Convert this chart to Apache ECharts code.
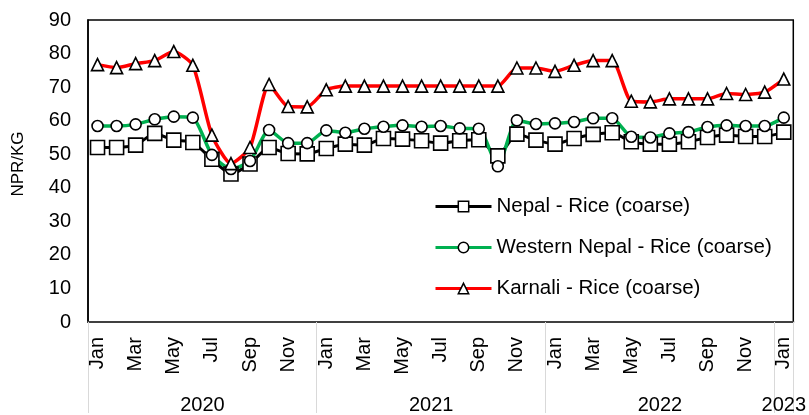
<!DOCTYPE html>
<html>
<head>
<meta charset="utf-8">
<script src="https://cdn.jsdelivr.net/npm/echarts@6/dist/echarts.min.js"></script>
<style>html,body{margin:0;padding:0;background:#fff}#c{width:809px;height:415px}</style>
</head>
<body>
<div id="c"></div>
<script>
const months = ['Jan','Feb','Mar','Apr','May','Jun','Jul','Aug','Sep','Oct','Nov','Dec',
  'Jan','Feb','Mar','Apr','May','Jun','Jul','Aug','Sep','Oct','Nov','Dec',
  'Jan','Feb','Mar','Apr','May','Jun','Jul','Aug','Sep','Oct','Nov','Dec','Jan'];
const years = ['2020','2020','2020','2020','2020','2020','2020','2020','2020','2020','2020','2020',
  '2021','2021','2021','2021','2021','2021','2021','2021','2021','2021','2021','2021',
  '2022','2022','2022','2022','2022','2022','2022','2022','2022','2022','2022','2022','2023'];
const nepal = [52,52,52.7,56.2,54.2,53.5,48.5,44.1,47.1,52,50.2,50.1,
  51.7,53,52.7,54.7,54.5,54,53.3,54,54.3,49.5,56,54.2,
  53,54.7,55.9,56.4,53.7,53,53,53.7,55,55.7,55.3,55.3,56.6];
const western = [58.4,58.4,58.9,60.4,61.2,60.9,49.8,45.6,48,57.2,53.3,53.3,
  57.1,56.4,57.6,58.2,58.6,58.2,58.4,57.7,57.6,46.4,60.1,59,
  59.2,59.6,60.7,60.7,55.2,55,56.2,56.6,58.1,58.6,58.4,58.4,60.9];
const karnali = [76.7,75.8,77,77.9,80.6,76.5,55.7,47.2,52,70.8,64.2,64.1,
  69.2,70.3,70.3,70.3,70.3,70.3,70.3,70.3,70.3,70.3,75.7,75.7,
  74.7,76.5,77.9,77.9,65.8,65.6,66.5,66.5,66.5,68.1,67.8,68.5,72.4];
const yTicks = {min:0, max:90, interval:10};

const font = 'Liberation Sans, Arial, sans-serif';
const chart = echarts.init(document.getElementById('c'));
function mk(name, data, color, symbol, size, lw) {
  return {
    name, type:'line', data, smooth:0.2,
    symbol, symbolSize:size, showAllSymbol:true,
    lineStyle:{color, width:lw},
    itemStyle:{color:'#fff', borderColor:'#000', borderWidth:1.6},
    emphasis:{disabled:true},
    color
  };
}
const legItem = {color:'#fff', borderColor:'#000', borderWidth:1.5};
chart.setOption({
  animation:false,
  grid:{left:88, right:15, top:20, bottom:91, show:true, borderColor:'#000', borderWidth:1.5, backgroundColor:'transparent'},
  legend:{
    orient:'vertical', left:429, top:191, itemWidth:56, itemHeight:13, itemGap:20,
    textStyle:{fontFamily:font, fontSize:20.5, color:'#000'},
    data:[
      {name:'Nepal - Rice (coarse)', itemStyle:legItem, lineStyle:{color:'#000', width:3}},
      {name:'Western Nepal - Rice (coarse)', itemStyle:legItem, lineStyle:{color:'#00b050', width:3}},
      {name:'Karnali - Rice (coarse)', itemStyle:legItem, lineStyle:{color:'#ff0000', width:3}}
    ]
  },
  xAxis:[{
    type:'category', data:months, boundaryGap:true, position:'bottom',
    axisLine:{lineStyle:{color:'#404040', width:2}},
    axisTick:{show:true, length:91, interval:(i)=>i%12===0, lineStyle:{color:'#d9d9d9', width:1}},
    axisLabel:{interval:1, rotate:90, fontFamily:font, fontSize:20, color:'#000', margin:15},
  },{
    type:'category', data:years, boundaryGap:true, position:'bottom',
    axisLine:{show:false}, axisTick:{show:false},
    axisLabel:{interval:0, fontFamily:font, fontSize:20, color:'#000', margin:73,
      formatter:(v,i)=> (i===6||i===18||i===30) ? '{s|'+v+'}' : (i===36 ? '{n|'+v+'}' : ''),
      rich:{s:{fontFamily:font, fontSize:20, color:'#000', padding:[0,19,0,0]}, n:{fontFamily:font, fontSize:20, color:'#000'}}
    }
  }],
  yAxis:{
    type:'value', min:yTicks.min, max:yTicks.max, interval:yTicks.interval,
    name:'NPR/KG', nameLocation:'middle', nameGap:61, nameRotate:90,
    nameTextStyle:{fontFamily:font, fontSize:17, color:'#000', padding:[0,0,0,14]},
    axisLine:{show:true, lineStyle:{color:'#000', width:1.5}},
    axisTick:{show:false}, splitLine:{show:false},
    axisLabel:{fontFamily:font, fontSize:20, color:'#000', margin:17}
  },
  series:[
    mk('Nepal - Rice (coarse)', nepal, '#000', 'rect', 14, 3),
    mk('Western Nepal - Rice (coarse)', western, '#00b050', 'circle', 11, 3.5),
    mk('Karnali - Rice (coarse)', karnali, '#ff0000', 'triangle', 12, 3.5)
  ]
});
</script>
</body>
</html>
